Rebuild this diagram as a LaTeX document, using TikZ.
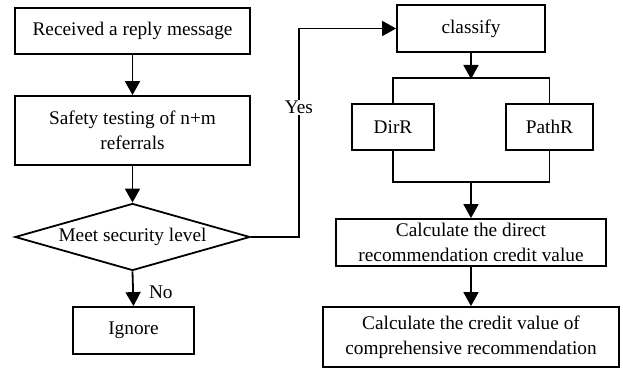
\documentclass[tikz,border=0pt]{standalone}
\usepackage{fontspec}
\setmainfont{Liberation Serif}
\usetikzlibrary{arrows.meta,shapes.geometric}
\definecolor{flowdark}{RGB}{0,0,0}
\newcommand{\flowfont}{\fontsize{19.3}{25}\selectfont}
\tikzset{
  flow box/.style={
    draw=flowdark,
    line width=1.8pt,
    inner sep=2pt,
    align=center,
    font=\flowfont,
  },
  flow arrow/.style={
    -{Triangle[length=14pt,width=15pt]},
    line width=1.8pt,
    draw=flowdark,
  },
}

\begin{document}
\begin{tikzpicture}[x=1pt,y=1pt]
  \tikzstyle{flowline}=[line width=1.8pt, draw=flowdark]
  \tikzstyle{flowlabel}=[font=\flowfont, inner sep=1pt]
  \useasboundingbox (0,0) rectangle (623,369);

  % Left column
  \node[flow box, minimum width=235pt, minimum height=46pt] (received) at (132.5,338)
    {Received a reply message};
  \node[flow box, minimum width=235pt, minimum height=69pt] (safety) at (132.5,238.5)
    {Safety testing of n+m\\referrals};
  \node[flow box, shape=diamond, aspect=3.5, inner sep=0pt,
        minimum width=235pt, minimum height=67pt] (meet) at (132.5,132)
    {Meet security level};
  \node[flow box, minimum width=121pt, minimum height=47pt] (ignore) at (133.5,38.5)
    {Ignore};

  \draw[flow arrow] (received.south) -- (safety.north);
  \draw[flow arrow] (safety.south) -- (meet.north);
  \draw[flow arrow] (meet.south) -- (ignore.north)
    node[flowlabel, pos=0.6, right=14pt] {No};

  % Right column
  \node[flow box, minimum width=148pt, minimum height=47pt] (classify) at (471,340.5)
    {classify};
  \node[flow box, minimum width=82pt, minimum height=46pt] (dirr) at (393,242)
    {DirR};
  \node[flow box, minimum width=87pt, minimum height=46pt] (pathr) at (549.5,242)
    {PathR};
  \node[flow box, minimum width=270pt, minimum height=47pt] (direct) at (471,126.5)
    {Calculate the direct\\recommendation credit value};
  \node[flow box, minimum width=296pt, minimum height=60pt] (overall) at (471,32)
    {Calculate the credit value of\\comprehensive recommendation};

  \coordinate (split) at (471,290);
  \coordinate (merge) at (471,188);

  \draw[flow arrow] (meet.east) -- ++(48,0) |- (classify.west)
    node[flowlabel, fill=white, pos=0.31] {Yes};
  \draw[flow arrow] (classify.south) -- (split);
  \draw[flowline] (dirr.north) -- ++(0,25) -| (pathr.north);
  \draw[flowline] (dirr.south) -- ++(0,-31) -| (pathr.south);
  \draw[flow arrow] (merge) -- (direct.north);
  \draw[flow arrow] (direct.south) -- (overall.north);
\end{tikzpicture}
\end{document}
